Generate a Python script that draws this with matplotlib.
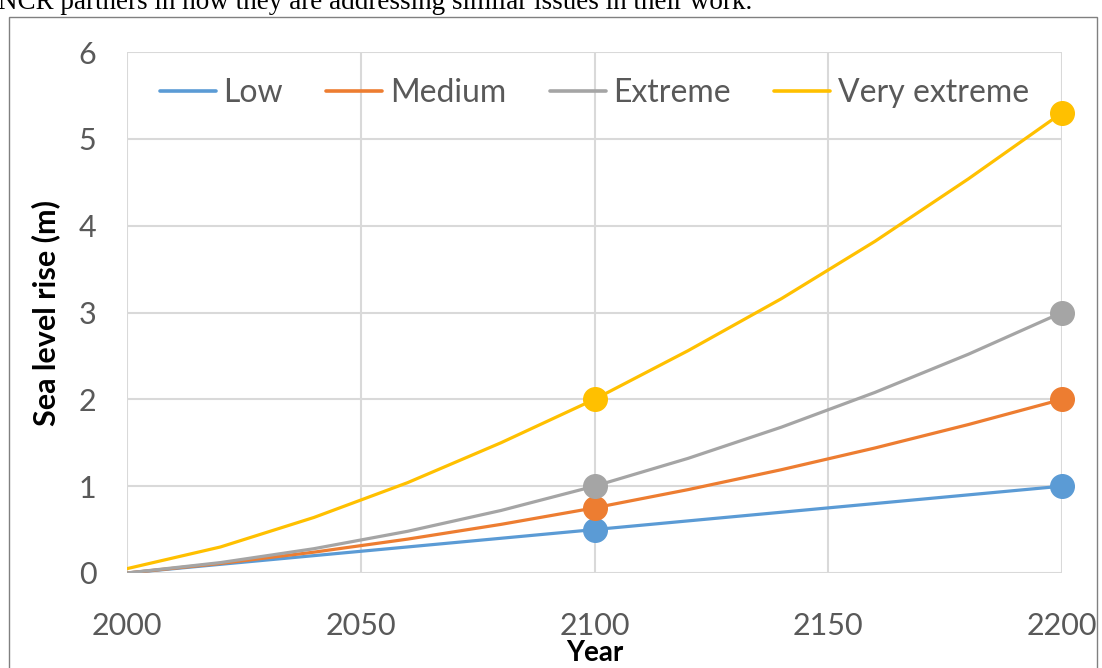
import matplotlib
matplotlib.use('Agg')
import matplotlib.pyplot as plt
from matplotlib.patches import Rectangle

# values, every 20 years
years = [2000, 2020, 2040, 2060, 2080, 2100, 2120, 2140, 2160, 2180, 2200]
low = [0, 0.10, 0.20, 0.30, 0.40, 0.50, 0.60, 0.70, 0.80, 0.90, 1.00]
medium = [0, 0.11, 0.24, 0.39, 0.56, 0.75, 0.96, 1.19, 1.44, 1.71, 2.00]
extreme = [0, 0.12, 0.28, 0.48, 0.72, 1.00, 1.32, 1.68, 2.08, 2.52, 3.00]
very_extreme = [0.05, 0.30, 0.64, 1.04, 1.50, 2.00, 2.56, 3.16, 3.82, 4.54, 5.30]

series_names = ['Low', 'Medium', 'Extreme', 'Very extreme']
series_values = [low, medium, extreme, very_extreme]
series_colors = ['#5B9BD5', '#ED7D31', '#A5A5A5', '#FFC000']
marker_years = [2100, 2200]

x_ticks = [2000, 2050, 2100, 2150, 2200]
y_ticks = [0, 1, 2, 3, 4, 5, 6]

W, H = 1102, 668
fig = plt.figure(figsize=(W / 100, H / 100), dpi=100)
fig.patch.set_facecolor('white')

# clipped sentence above the chart
fig.text(-2 / W, 1 - 9 / H, 'NCR partners in how they are addressing similar issues in their work.',
         family='Liberation Serif', fontsize=19.5, color='black', va='baseline', ha='left')

# chart frame
fig.patches.append(Rectangle((9 / W, -0.2), (1097 - 9) / W, (H - 17) / H + 0.2,
                             transform=fig.transFigure, fill=False,
                             edgecolor='#808080', lw=1))

ax = fig.add_axes([127 / W, (H - 573) / H, (1062 - 127) / W, (573 - 52) / H])
ax.set_facecolor('none')

for name, vals, col in zip(series_names, series_values, series_colors):
    ax.plot(years, vals, color=col, lw=2.3, label=name, solid_capstyle='round', zorder=3)
    mx = [y for y in years if y in marker_years]
    my = [v for y, v in zip(years, vals) if y in marker_years]
    ax.plot(mx, my, 'o', color=col, ms=17, clip_on=False, zorder=4)

ax.set_xlim(2000, 2200)
ax.set_ylim(0, 6)
ax.set_xticks(x_ticks)
ax.set_yticks(y_ticks)
ax.grid(True, color='#d9d9d9', lw=1.5)
ax.set_axisbelow(True)
for s in ax.spines.values():
    s.set_visible(False)
ax.tick_params(length=0, labelsize=22, labelcolor='#595959')
ax.tick_params(axis='x', pad=28)
ax.tick_params(axis='y', pad=22)
for lab in ax.get_xticklabels() + ax.get_yticklabels():
    lab.set_family('Lato')

ax.set_xlabel('Year', family='Lato', fontsize=20, fontweight='bold', labelpad=0)
ax.set_ylabel('Sea level rise (m)', family='Lato', fontsize=22, fontweight='bold', labelpad=13)

leg = ax.legend(loc='center', bbox_to_anchor=(0.5, (573 - 93) / (573 - 52)), ncol=4, frameon=False,
                prop={'family': 'Lato', 'size': 23}, handlelength=1.75, handletextpad=0.25,
                columnspacing=1.35, labelcolor='#595959', borderpad=0)
for line in leg.get_lines():
    line.set_linewidth(2.6)

fig.savefig('out.png', dpi=100)
